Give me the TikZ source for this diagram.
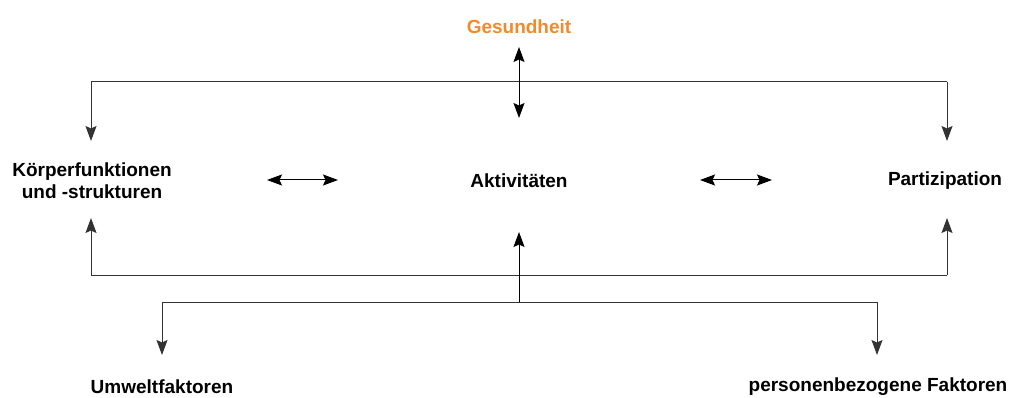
\documentclass[tikz,border=0pt]{standalone}
\usepackage{fontspec}
\setmainfont{Liberation Sans}
\usetikzlibrary{arrows.meta}
\definecolor{healthorange}{HTML}{F08A2C}
\definecolor{linegray}{HTML}{333333}
\tikzset{
  label/.style={font=\fontsize{19}{22}\selectfont\bfseries, inner sep=0pt, align=center},
  head/.tip={Stealth[length=15pt,width=11pt,inset=2.5pt]},
  tip/.style={-head},
  dtip/.style={head-head},
  wire/.style={draw=linegray, line width=1pt}
}
\begin{document}
\begin{tikzpicture}[x=1pt,y=-1pt]
  \useasboundingbox (0,0) rectangle (1011,398);

  % labels
  \node[label, text=healthorange] (ges) at (519,27) {Gesundheit};
  \node[label] (koer) at (92,181) {Körperfunktionen\\und -strukturen};
  \node[label] (akt) at (519,181) {Aktivitäten};
  \node[label] (part) at (945,181) {Partizipation};
  \node[label] (umw) at (162,387) {Umweltfaktoren};
  \node[label] (pers) at (878,387) {personenbezogene Faktoren};

  % routing points
  \coordinate (tl) at (91,82);
  \coordinate (tr) at (947,82);
  \coordinate (bl) at (91,275);
  \coordinate (br) at (947,275);
  \coordinate (gtop) at (519,47);
  \coordinate (gbot) at (519,118);
  \coordinate (ktop) at (91,141);
  \coordinate (ptop) at (947,141);
  \coordinate (kbot) at (91,218);
  \coordinate (pbot) at (947,218);
  \coordinate (abot) at (519,232);
  \coordinate (fork) at (519,302);
  \coordinate (fl) at (162,302);
  \coordinate (fr) at (877,302);
  \coordinate (utip) at (162,355);
  \coordinate (ptip) at (877,355);
  \coordinate (la1) at (267,180);
  \coordinate (la2) at (338,180);
  \coordinate (ra1) at (700,180);
  \coordinate (ra2) at (772,180);

  % upper loop
  \draw[wire] (tl) -- (tr);
  \draw[wire, tip] (tl) -- (ktop);
  \draw[wire, tip] (tr) -- (ptop);
  \draw[wire, draw=black, dtip] (gtop) -- (gbot);

  % lower loop
  \draw[wire] (bl) -- (br);
  \draw[wire, tip] (bl) -- (kbot);
  \draw[wire, tip] (br) -- (pbot);

  % context factors
  \draw[wire] (fl) -- (fr);
  \draw[wire, draw=black, tip] (fork) -- (abot);
  \draw[wire, tip] (fl) -- (utip);
  \draw[wire, tip] (fr) -- (ptip);

  % interactions between components
  \draw[line width=1pt, dtip] (la1) -- (la2);
  \draw[line width=1pt, dtip] (ra1) -- (ra2);
\end{tikzpicture}
\end{document}
